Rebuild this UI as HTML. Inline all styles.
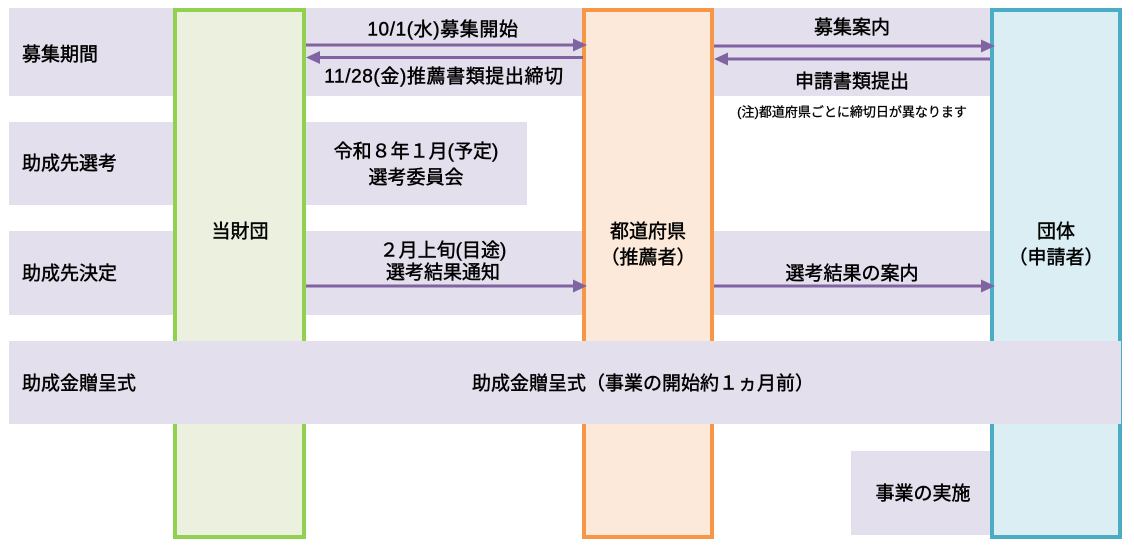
<!DOCTYPE html>
<html><head><meta charset="utf-8">
<style>
html,body{margin:0;padding:0;background:#fff;}
svg{display:block;}
text{font-family:"Liberation Sans","Noto Sans CJK JP",sans-serif;font-size:19px;font-weight:normal;fill:#000;stroke:#000;stroke-width:0.45px;}
.s{font-size:13px;stroke-width:0.3px;}
.d{letter-spacing:0.6px;}
</style></head>
<body>
<svg width="1134" height="548" viewBox="0 0 1134 548" xmlns="http://www.w3.org/2000/svg">
<!-- bands behind boxes -->
<rect x="9" y="8" width="981" height="88" fill="#e4dfec"/>
<rect x="9" y="122" width="166" height="83" fill="#e4dfec"/>
<rect x="306" y="122" width="221" height="83" fill="#e4dfec"/>
<rect x="9" y="231" width="981" height="84" fill="#e4dfec"/>
<rect x="851" y="451" width="139" height="84" fill="#e4dfec"/>
<!-- boxes -->
<rect x="175" y="10" width="129" height="527" fill="#ebf1de" stroke="#92d050" stroke-width="4"/>
<rect x="584" y="10" width="128" height="527" fill="#fde9d9" stroke="#f79646" stroke-width="4"/>
<rect x="992" y="10" width="128" height="527" fill="#daeef3" stroke="#4bacc6" stroke-width="4"/>
<!-- band 4 over boxes -->
<rect x="9" y="341" width="1112" height="83" fill="#e4dfec"/>
<!-- arrows -->
<g fill="#8064a2" stroke="none">
<rect x="306" y="43.5" width="268" height="3"/>
<polygon points="573,38.5 587,45 573,51.5"/>
<rect x="319" y="56" width="264" height="3"/>
<polygon points="320,51 306,57.5 320,64"/>
<rect x="714" y="44.5" width="268" height="3"/>
<polygon points="981,39.5 995,46 981,52.5"/>
<rect x="727" y="57.5" width="263" height="3"/>
<polygon points="728,52.5 714,59 728,65.5"/>
<rect x="306" y="284.5" width="268" height="3"/>
<polygon points="573,279.5 587,286 573,292.5"/>
<rect x="714" y="284.5" width="268" height="3"/>
<polygon points="981,279.5 995,286 981,292.5"/>
</g>
<!-- texts -->
<g dominant-baseline="central">
<text x="22" y="55">募集期間</text>
<text x="22" y="164">助成先選考</text>
<text x="22" y="274">助成先決定</text>
<text x="22" y="384">助成金贈呈式</text>
<text class="d" x="443" y="30" text-anchor="middle">10/1(水)募集開始</text>
<text class="d" x="444" y="77" text-anchor="middle">11/28(金)推薦書類提出締切</text>
<text x="416" y="152" text-anchor="middle">令和８年１月(予定)</text>
<text x="416" y="178" text-anchor="middle">選考委員会</text>
<text x="240" y="232" text-anchor="middle">当財団</text>
<text x="443" y="251" text-anchor="middle">２月上旬(目途)</text>
<text x="443" y="273" text-anchor="middle">選考結果通知</text>
<text x="648" y="232" text-anchor="middle">都道府県</text>
<text x="648" y="258" text-anchor="middle">（推薦者）</text>
<text x="852" y="28" text-anchor="middle">募集案内</text>
<text x="852" y="82" text-anchor="middle">申請書類提出</text>
<text class="s" x="852" y="112" text-anchor="middle">(注)都道府県ごとに締切日が異なります</text>
<text x="852" y="274" text-anchor="middle">選考結果の案内</text>
<text x="1056" y="232" text-anchor="middle">団体</text>
<text x="1056" y="258" text-anchor="middle">（申請者）</text>
<text x="472" y="384">助成金贈呈式（事業の開始約１ヵ月前）</text>
<text x="923" y="494" text-anchor="middle">事業の実施</text>
</g>
</svg>
</body></html>
